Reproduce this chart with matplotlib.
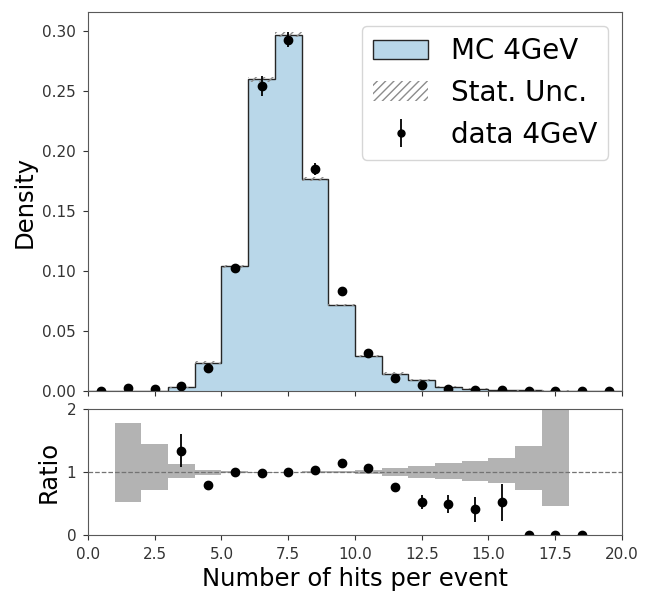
import numpy as np
import matplotlib
matplotlib.use('Agg')
import matplotlib.pyplot as plt
from matplotlib.patches import Patch

# bin edges: 0..20, width 1
edges = np.arange(0, 21, 1)
centers = edges[:-1] + 0.5

# MC 4GeV density per bin
mc = [0.0, 0.0001, 0.0001, 0.0031, 0.0237, 0.104, 0.260, 0.297, 0.177, 0.0718,
      0.0292, 0.0145, 0.0089, 0.0036, 0.0020, 0.0010, 0.0005, 0.0002, 0.0, 0.0]
# relative stat. unc. band of MC (upper / lower), as drawn in the ratio panel
band_hi = [np.nan, 1.78, 1.44, 1.13, 1.04, 1.012, 1.008, 1.007, 1.01, 1.015,
           1.035, 1.07, 1.09, 1.14, 1.18, 1.22, 1.41, 2.6, np.nan, np.nan]
band_lo = [np.nan, 0.53, 0.71, 0.90, 0.96, 0.988, 0.992, 0.993, 0.99, 0.985,
           0.965, 0.935, 0.91, 0.89, 0.85, 0.83, 0.72, 0.46, np.nan, np.nan]

# data 4GeV
data = [0.0003, 0.0028, 0.0020, 0.0042, 0.0190, 0.1025, 0.254, 0.293, 0.185, 0.083,
        0.0315, 0.0110, 0.0046, 0.0018, 0.0008, 0.0005, 0.0, 0.0, 0.0, 0.0]
data_err = [0.0002, 0.0006, 0.0005, 0.0008, 0.0017, 0.003, 0.0084, 0.006, 0.005, 0.0035,
            0.0015, 0.0008, 0.001, 0.0005, 0.0004, 0.0003, 0.0, 0.0, 0.0, 0.0]

# data / MC
ratio = [np.nan, np.nan, np.nan, 1.34, 0.80, 1.0, 0.98, 1.0, 1.04, 1.15,
         1.06, 0.76, 0.52, 0.49, 0.41, 0.52, 0.0, 0.0, 0.0, np.nan]
ratio_err = [0, 0, 0, 0.26, 0.02, 0.01, 0.01, 0.01, 0.01, 0.02,
             0.03, 0.04, 0.11, 0.14, 0.20, 0.29, 0, 0, 0, 0]

mc = np.array(mc)
band_hi = np.array(band_hi)
band_lo = np.array(band_lo)

fig = plt.figure(figsize=(6.46, 5.94), dpi=100)
ax = fig.add_axes([0.1362, 0.3418, 0.8266, 0.6380])
rax = fig.add_axes([0.1362, 0.0993, 0.8266, 0.2121])

spine_col = '0.35'
for a in (ax, rax):
    for s in a.spines.values():
        s.set_color(spine_col)
    a.tick_params(colors='0.2', labelsize=11, pad=5)

# top panel
ax.stairs(mc, edges, fill=True, color='#b9d7e9', label='MC 4GeV')
ax.stairs(mc, edges, color='0.15', linewidth=1.0)
ok = ~np.isnan(band_hi)
ax.bar(edges[:-1][ok], (mc * (band_hi - band_lo))[ok], bottom=(mc * band_lo)[ok],
       width=1, align='edge', fill=False, hatch='////', edgecolor='0.55', linewidth=0)
ax.errorbar(centers, data, yerr=data_err, fmt='o', color='k', ms=6, elinewidth=1.3)

ax.set_xlim(0, 20)
ax.set_ylim(0, 0.316)
ax.set_xticks(np.arange(0, 20.1, 2.5))
ax.set_xticklabels([])
ax.set_ylabel('Density', fontsize=17.5)

handles = [
    Patch(facecolor='#b9d7e9', edgecolor='0.15', linewidth=1.0),
    Patch(fill=False, hatch='////', edgecolor='0.55', linewidth=0),
    ax.errorbar([], [], yerr=[], fmt='o', color='k', ms=5, elinewidth=1.3),
]
ax.legend(handles, ['MC 4GeV', 'Stat. Unc.', 'data 4GeV'], loc='upper right',
          fontsize=20, handlelength=2.0, borderpad=0.4, labelspacing=0.5)

# ratio panel
rax.bar(edges[:-1][ok], (band_hi - band_lo)[ok], bottom=band_lo[ok], width=1,
        align='edge', color='0.7', linewidth=0)
rax.axhline(1, color='0.45', linestyle='--', linewidth=0.9)
rax.errorbar(centers, ratio, yerr=ratio_err, fmt='o', color='k', ms=6, elinewidth=1.3)
rax.set_xlim(0, 20)
rax.set_ylim(0, 2)
rax.set_yticks([0, 1, 2])
rax.set_xticks(np.arange(0, 20.1, 2.5))
rax.set_ylabel('Ratio', fontsize=17.5)
rax.set_xlabel('Number of hits per event', fontsize=17.5)

fig.savefig('out.png', dpi=100)
